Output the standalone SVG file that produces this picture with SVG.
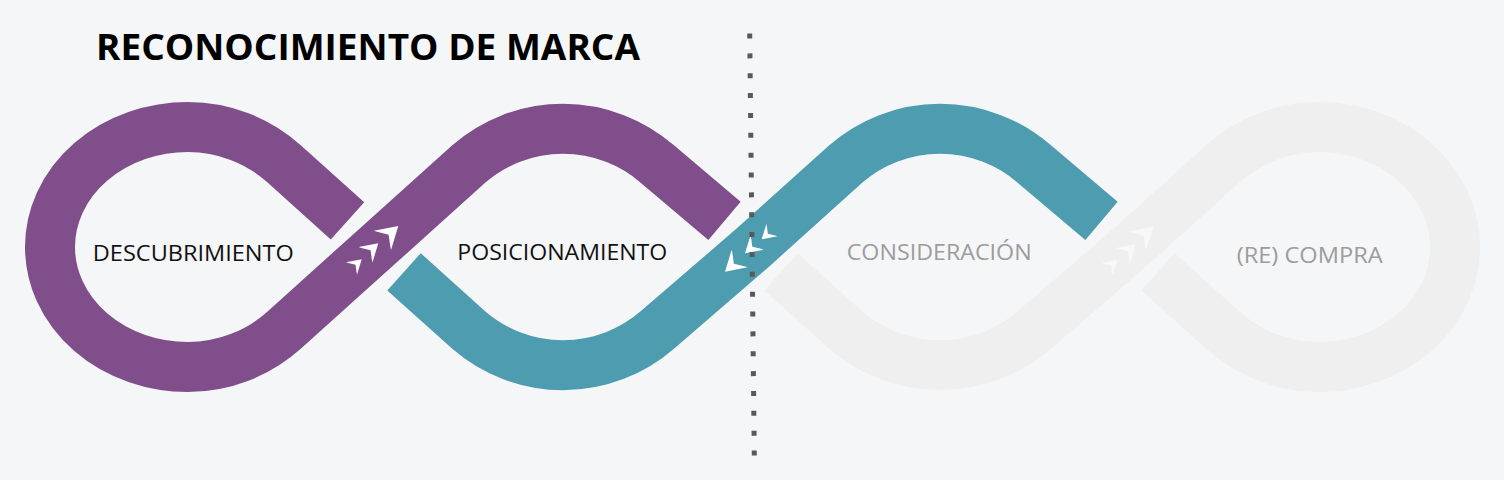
<svg xmlns="http://www.w3.org/2000/svg" width="1504" height="480" viewBox="0 0 1504 480">
<style>
.band{fill:none;stroke-width:50;stroke-linecap:butt;stroke-linejoin:round}
.purple{stroke:#804f8b}
.teal{stroke:#4e9caf}
.gray{stroke:#efefef}
.lbl{font-family:"Open Sans","Noto Sans","Liberation Sans",sans-serif;font-size:21px;font-weight:400}
.dark{fill:#111111}
.light{fill:#9c9c9c}
.title{font-family:"Open Sans","Noto Sans","Liberation Sans",sans-serif;font-size:35px;font-weight:700;fill:#000000}
</style>
<defs>
<path id="chev" d="M0,0 L-21.4,-12.9 L-19.6,-9.8 L-13,0 L-19.6,9.8 L-21.4,12.9 Z"/>
</defs>
<rect x="0" y="0" width="1504" height="480" fill="#f5f6f8"/>
<g id="title"><text class="title" x="96" y="60" textLength="544" lengthAdjust="spacingAndGlyphs">RECONOCIMIENTO DE MARCA</text></g>
<g id="connectors">
<path id="band-purple" class="band purple" d="M347.5,220.9 L284.3,164 A143.9,143.9 0 0 0 188,127 A138,120 0 0 0 188,367 A143.9,143.9 0 0 0 284.3,330 L376.5,247 L468.7,164 A143.9,143.9 0 0 1 657.3,164 L724.5,220.9"/>
<path id="band-teal" class="band teal" d="M404,271.8 L468.7,330 A143.9,143.9 0 0 0 657.3,330 L753.5,247 L845.7,164 A143.9,143.9 0 0 1 1034.3,164 L1101.5,220.9"/>
<path id="band-gray" class="band gray" d="M781,271.8 L845.7,330 A143.9,143.9 0 0 0 1034.3,330 L1130.5,247 L1222.7,164 A143.9,143.9 0 0 1 1319,127 A136,120 0 0 1 1319,367 A143.9,143.9 0 0 1 1222.7,330 L1158,271.8"/>
<g id="arrows-purple" fill="#ffffff">
<use href="#chev" transform="translate(398.3,226) rotate(-42) scale(1)"/>
<use href="#chev" transform="translate(378.3,243.3) rotate(-42) scale(0.8)"/>
<use href="#chev" transform="translate(361.7,259.3) rotate(-42) scale(0.64)"/>
</g>
<g id="arrows-teal" fill="#ffffff">
<use href="#chev" transform="translate(725,271.7) rotate(138) scale(0.92)"/>
<use href="#chev" transform="translate(745,253.3) rotate(138) scale(0.76)"/>
<use href="#chev" transform="translate(761.7,239.3) rotate(138) scale(0.64)"/>
</g>
<g id="arrows-gray" fill="#f8f8f8">
<use href="#chev" transform="translate(1153.3,226.7) rotate(-42) scale(1)"/>
<use href="#chev" transform="translate(1135.7,244.3) rotate(-42) scale(0.8)"/>
<use href="#chev" transform="translate(1117.3,260) rotate(-42) scale(0.64)"/>
</g>
</g>
<g id="descubrimiento"><text class="lbl dark" x="193.3" y="260.5" text-anchor="middle" textLength="201" lengthAdjust="spacingAndGlyphs">DESCUBRIMIENTO</text></g>
<g id="posicionamiento"><text class="lbl dark" x="562.3" y="260" text-anchor="middle" textLength="210" lengthAdjust="spacingAndGlyphs">POSICIONAMIENTO</text></g>
<g id="consideracion"><text class="lbl light" x="939.2" y="260" text-anchor="middle" textLength="185" lengthAdjust="spacingAndGlyphs">CONSIDERACIÓN</text></g>
<g id="recompra"><text class="lbl light" x="1309.7" y="263.3" text-anchor="middle" textLength="146" lengthAdjust="spacingAndGlyphs">(RE) COMPRA</text></g>
<g id="divider"><line x1="749.7" y1="33.5" x2="754.3" y2="456" stroke="#595959" stroke-width="5" stroke-dasharray="5 14.86"/></g>
</svg>
